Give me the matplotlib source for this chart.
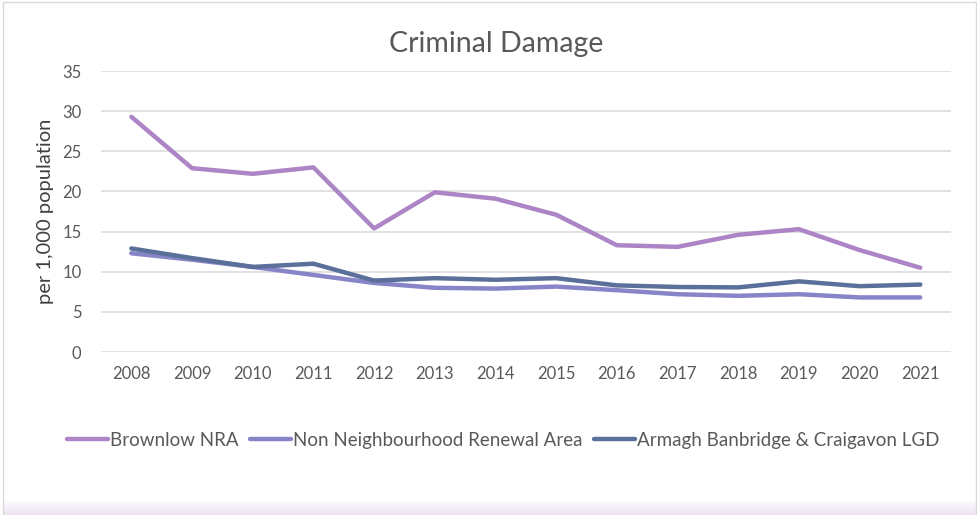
import numpy as np
import matplotlib
matplotlib.use("Agg")
import matplotlib.pyplot as plt
from matplotlib.patches import Rectangle

plt.rcParams['font.family'] = ['Lato', 'DejaVu Sans']

years = [str(y) for y in range(2008, 2022)]
brownlow = [29.3, 22.9, 22.2, 23.0, 15.4, 19.9, 19.1, 17.1, 13.3, 13.1, 14.6, 15.3, 12.7, 10.5]
non_nra = [12.3, 11.5, 10.6, 9.6, 8.6, 8.0, 7.9, 8.15, 7.7, 7.2, 7.0, 7.2, 6.8, 6.8]
lgd = [12.9, 11.7, 10.6, 11.0, 8.9, 9.2, 9.0, 9.2, 8.3, 8.1, 8.05, 8.8, 8.2, 8.4]

series = [
    ("Brownlow NRA", brownlow, "#AD84C6"),
    ("Non Neighbourhood Renewal Area", non_nra, "#8784C7"),
    ("Armagh Banbridge & Craigavon LGD", lgd, "#5A6F99"),
]

fig = plt.figure(figsize=(9.77, 5.15), dpi=100)
ax = fig.add_axes([0.1034, 0.3165, 0.8696, 0.5455])

x = np.arange(len(years))
for name, vals, col in series:
    ax.plot(x, vals, color=col, linewidth=3.2, solid_capstyle='round',
            solid_joinstyle='round', label=name)

ax.set_xlim(-0.5, len(years) - 0.5)
ax.set_ylim(0, 35)
ax.set_yticks(range(0, 36, 5))
ax.set_xticks(x)
ax.set_xticklabels(years)
ax.grid(axis='y', color='#D9D9D9', linewidth=1.1)
ax.set_axisbelow(True)
for s in ax.spines.values():
    s.set_visible(False)
ax.tick_params(length=0, labelsize=12, labelcolor='#595959', pad=10)
ax.tick_params(axis='y', pad=14)

ax.set_ylabel("per 1,000 population", fontsize=14.5, color='#404040', labelpad=6)
fig.text(0.508, 0.915, "Criminal Damage", ha='center', va='center',
         fontsize=20.5, color='#595959')

leg = fig.legend(loc='center', bbox_to_anchor=(0.515, 0.145), ncol=3,
                 frameon=False, fontsize=13.5, handlelength=2.2,
                 handletextpad=0.1, columnspacing=0.6)
for t in leg.get_texts():
    t.set_color('#595959')
for h in leg.get_lines():
    h.set_linewidth(3.2)

# chart frame and soft bottom band
fig.patches.append(Rectangle((0.003, 0.0), 0.996, 0.996, transform=fig.transFigure,
                             fill=False, edgecolor='#D9D9D9', linewidth=1.0))
band = fig.add_axes([0.004, 0.0, 0.996, 0.03])
grad = np.linspace(0, 1, 20).reshape(-1, 1)
band.imshow(grad, aspect='auto', cmap=matplotlib.colors.LinearSegmentedColormap.from_list(
    'band', ['#EDE3F2', '#FFFFFF']), origin='lower', extent=(0, 1, 0, 1))
band.axis('off')

fig.savefig("out.png", dpi=100)
